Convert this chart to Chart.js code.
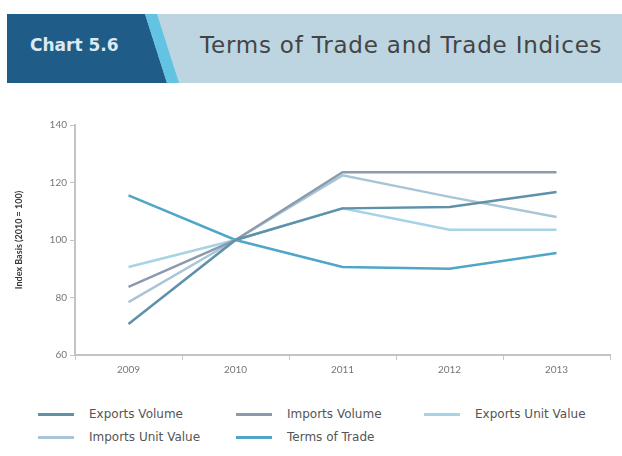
<!DOCTYPE html>
<html>
<head>
<meta charset="utf-8">
<script src="https://cdn.jsdelivr.net/npm/chart.js@4"></script>
<style>
  body { margin: 0; width: 622px; height: 456px; background: #fff; position: relative; overflow: hidden; font-family: Lato, sans-serif; }
  #band { position: absolute; left: 7px; top: 14px; width: 615px; height: 69px; background: #bcd5e1; }
  #box { position: absolute; left: 7px; top: 14px; width: 180px; height: 69px; background: #1f5c88;
         clip-path: polygon(0 0, 138px 0, 160px 100%, 0 100%); }
  #stripe { position: absolute; left: 7px; top: 14px; width: 190px; height: 69px; background: #62c4e2;
            clip-path: polygon(138px 0, 150px 0, 172px 100%, 160px 100%); }
  #chartNo { position: absolute; left: 30px; top: 35px; color: #dde9f1; font-family: 'DejaVu Sans', sans-serif; font-weight: bold; font-size: 17px; }
  #title { position: absolute; left: 200px; top: 32px; color: #444; font-family: 'DejaVu Sans', sans-serif; font-size: 23px; letter-spacing: 0.8px; }
  #wrap { position: absolute; left: 0; top: 100px; width: 622px; height: 280px; }
  #legend { position: absolute; left: 0; top: 407px; width: 622px; font-family: 'DejaVu Sans', sans-serif; font-size: 12px; color: #555; }
  .item { position: absolute; display: flex; align-items: center; }
  .swatch { width: 36px; height: 3px; margin-right: 15px; }
</style>
</head>
<body>
<div id="band"></div>
<div id="box"></div>
<div id="stripe"></div>
<div id="chartNo">Chart 5.6</div>
<div id="title">Terms of Trade and Trade Indices</div>
<div id="wrap"><canvas id="myChart"></canvas></div>
<div id="legend"></div>

<script>
'use strict';

// years on the x axis
let years = ['2009', '2010', '2011', '2012', '2013'];

// index values, 2010 = 100
let exportsVolume = [70.8, 100, 111, 111.5, 116.7];
let importsVolume = [83.7, 100, 123.6, 123.6, 123.6];
let exportsUnitValue = [90.6, 100, 111, 103.6, 103.6];
let importsUnitValue = [78.4, 100, 122.5, 115, 108];
let termsOfTrade = [115.5, 100, 90.6, 90, 95.5];

let yTicks = [60, 80, 100, 120, 140];

let seriesNames = ['Exports Volume', 'Imports Volume', 'Exports Unit Value', 'Imports Unit Value', 'Terms of Trade'];
let seriesData = [exportsVolume, importsVolume, exportsUnitValue, importsUnitValue, termsOfTrade];
let seriesColors = ['#5f92aa', '#8b9bae', '#a6d3e6', '#a9c6d6', '#4fa6c6'];

// legend slots: left / top of each entry
let legendSlots = [[38, 0], [236, 0], [424, 0], [38, 23], [236, 23]];

let datasets = [];
for (let i = 0; i < seriesNames.length; i++) {
  datasets.push({
    label: seriesNames[i],
    data: seriesData[i],
    borderColor: seriesColors[i],
    borderWidth: 2.5,
    pointRadius: 0,
    tension: 0,
    fill: false
  });
}

const ctx = document.getElementById('myChart').getContext('2d');
const myChart = new Chart(ctx, {
  type: 'line',
  data: {
    labels: years,
    datasets: datasets
  },
  options: {
    responsive: true,
    maintainAspectRatio: false,
    animation: false,
    layout: { padding: { left: 12, top: 25, right: 12, bottom: 0 } },
    plugins: {
      legend: { display: false },
      tooltip: { enabled: false }
    },
    scales: {
      x: {
        offset: true,
        grid: { offset: true, drawOnChartArea: false, tickLength: 5, color: '#c4c4c4' },
        border: { color: '#c4c4c4', width: 2 },
        ticks: { color: '#777', font: { family: 'Lato', size: 10 }, padding: 4 }
      },
      y: {
        min: 60,
        max: 140,
        afterBuildTicks: function (scale) {
          scale.ticks = yTicks.map(function (v) { return { value: v }; });
        },
        afterFit: function (scale) {
          scale.width = 63;
        },
        grid: { drawOnChartArea: false, tickLength: 5, color: '#c4c4c4' },
        border: { color: '#c4c4c4', width: 2 },
        ticks: { color: '#777', font: { family: 'Lato', size: 10 }, padding: 3 },
        title: {
          display: true,
          text: 'Index Basis (2010 = 100)',
          color: '#3a3a3a',
          font: { family: 'Lato', size: 9, weight: 'bold' },
          padding: 2
        }
      }
    }
  }
});

// html legend laid out in a grid
const legend = document.getElementById('legend');
for (let i = 0; i < myChart.data.datasets.length; i++) {
  let ds = myChart.data.datasets[i];
  let item = document.createElement('div');
  item.className = 'item';
  item.style.left = legendSlots[i][0] + 'px';
  item.style.top = legendSlots[i][1] + 'px';
  let sw = document.createElement('span');
  sw.className = 'swatch';
  sw.style.background = ds.borderColor;
  let txt = document.createElement('span');
  txt.textContent = ds.label;
  item.appendChild(sw);
  item.appendChild(txt);
  legend.appendChild(item);
}
</script>
</body>
</html>
